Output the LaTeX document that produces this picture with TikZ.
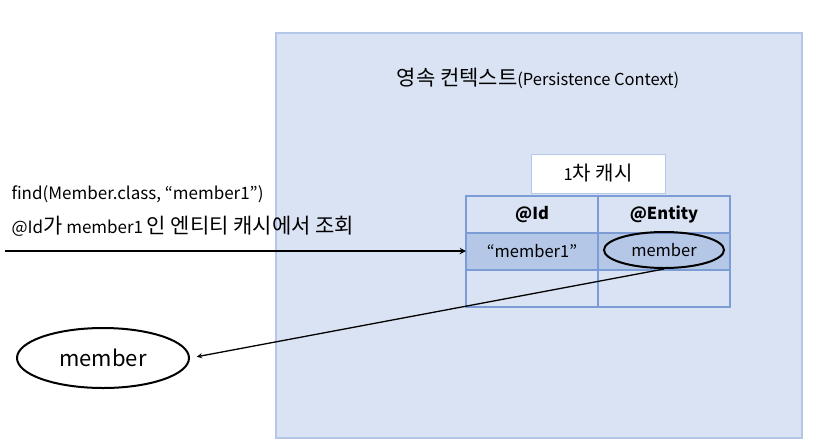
\documentclass[tikz,border=0pt]{standalone}
\usepackage{fontspec}
\setmainfont{Noto Sans CJK KR}
\usepackage{xcolor}
\usepackage{tikz}
\usetikzlibrary{shapes,arrows,positioning}

\definecolor{ctxfill}{HTML}{DAE3F3}
\definecolor{ctxline}{HTML}{B4C7E7}
\definecolor{rowfill}{HTML}{B4C7E7}
\definecolor{cellline}{HTML}{7C9CD6}

% Hangul set a little larger than the Latin text
\newcommand{\ko}[1]{{\fontsize{21}{22}\selectfont #1}}

\begin{document}
\begin{tikzpicture}[x=1pt, y=-1pt,
        every node/.style={font=\fontsize{16.5}{19}\selectfont},
        cell/.style={draw=cellline, line width=1.2pt, minimum width=132pt, minimum height=37pt, inner sep=0pt, outer sep=0pt},
        obj/.style={draw, ellipse, line width=2pt, inner sep=0pt},
        arr/.style={->, >=stealth}]

    \useasboundingbox (0,0) rectangle (821,445);

    \node[draw=ctxline, fill=ctxfill, line width=1.2pt, minimum width=526pt, minimum height=405pt, inner sep=0pt] (context) at (539,235.5) {};
    \node (title) at (538,78) {\ko{영속 컨텍스트}(Persistence Context)};

    \node[draw=ctxline, fill=white, line width=1pt, minimum width=134pt, minimum height=39pt] (cache) at (598,173.5) {1{\fontsize{20}{22}\selectfont 차 캐시}};

    \node[cell] (idhead) at (532,214.5) {\textbf{@Id}};
    \node[cell, right=0pt of idhead] (entityhead) {\textbf{@Entity}};
    \node[cell, fill=rowfill, below=0pt of idhead] (idcell) {“member1”};
    \node[cell, fill=rowfill, below=0pt of entityhead] (entitycell) {};
    \node[cell, below=0pt of idcell] (idempty) {};
    \node[cell, below=0pt of entitycell] (entityempty) {};

    \node[obj, minimum width=120pt, minimum height=36pt] (cached) at (664,250) {member};

    \node[anchor=west, font=\fontsize{17}{19}\selectfont] (findcall) at (8,194) {find(Member.class, “member1”)};
    \node[anchor=west, font=\fontsize{17}{19}\selectfont] (lookup) at (8,226) {@Id\ko{가} member1 \ko{인 엔티티 캐시에서 조회}};

    \coordinate (caller) at (5,251);
    \draw[arr, line width=1.8pt] (caller) -- (idcell.west |- caller);

    \node[obj, minimum width=172pt, minimum height=60pt, font=\fontsize{22}{25}\selectfont] (result) at (103,358) {member};
    \draw[arr, line width=1.3pt, shorten >=7pt] (cached.south) -- (result.east);
\end{tikzpicture}
\end{document}
